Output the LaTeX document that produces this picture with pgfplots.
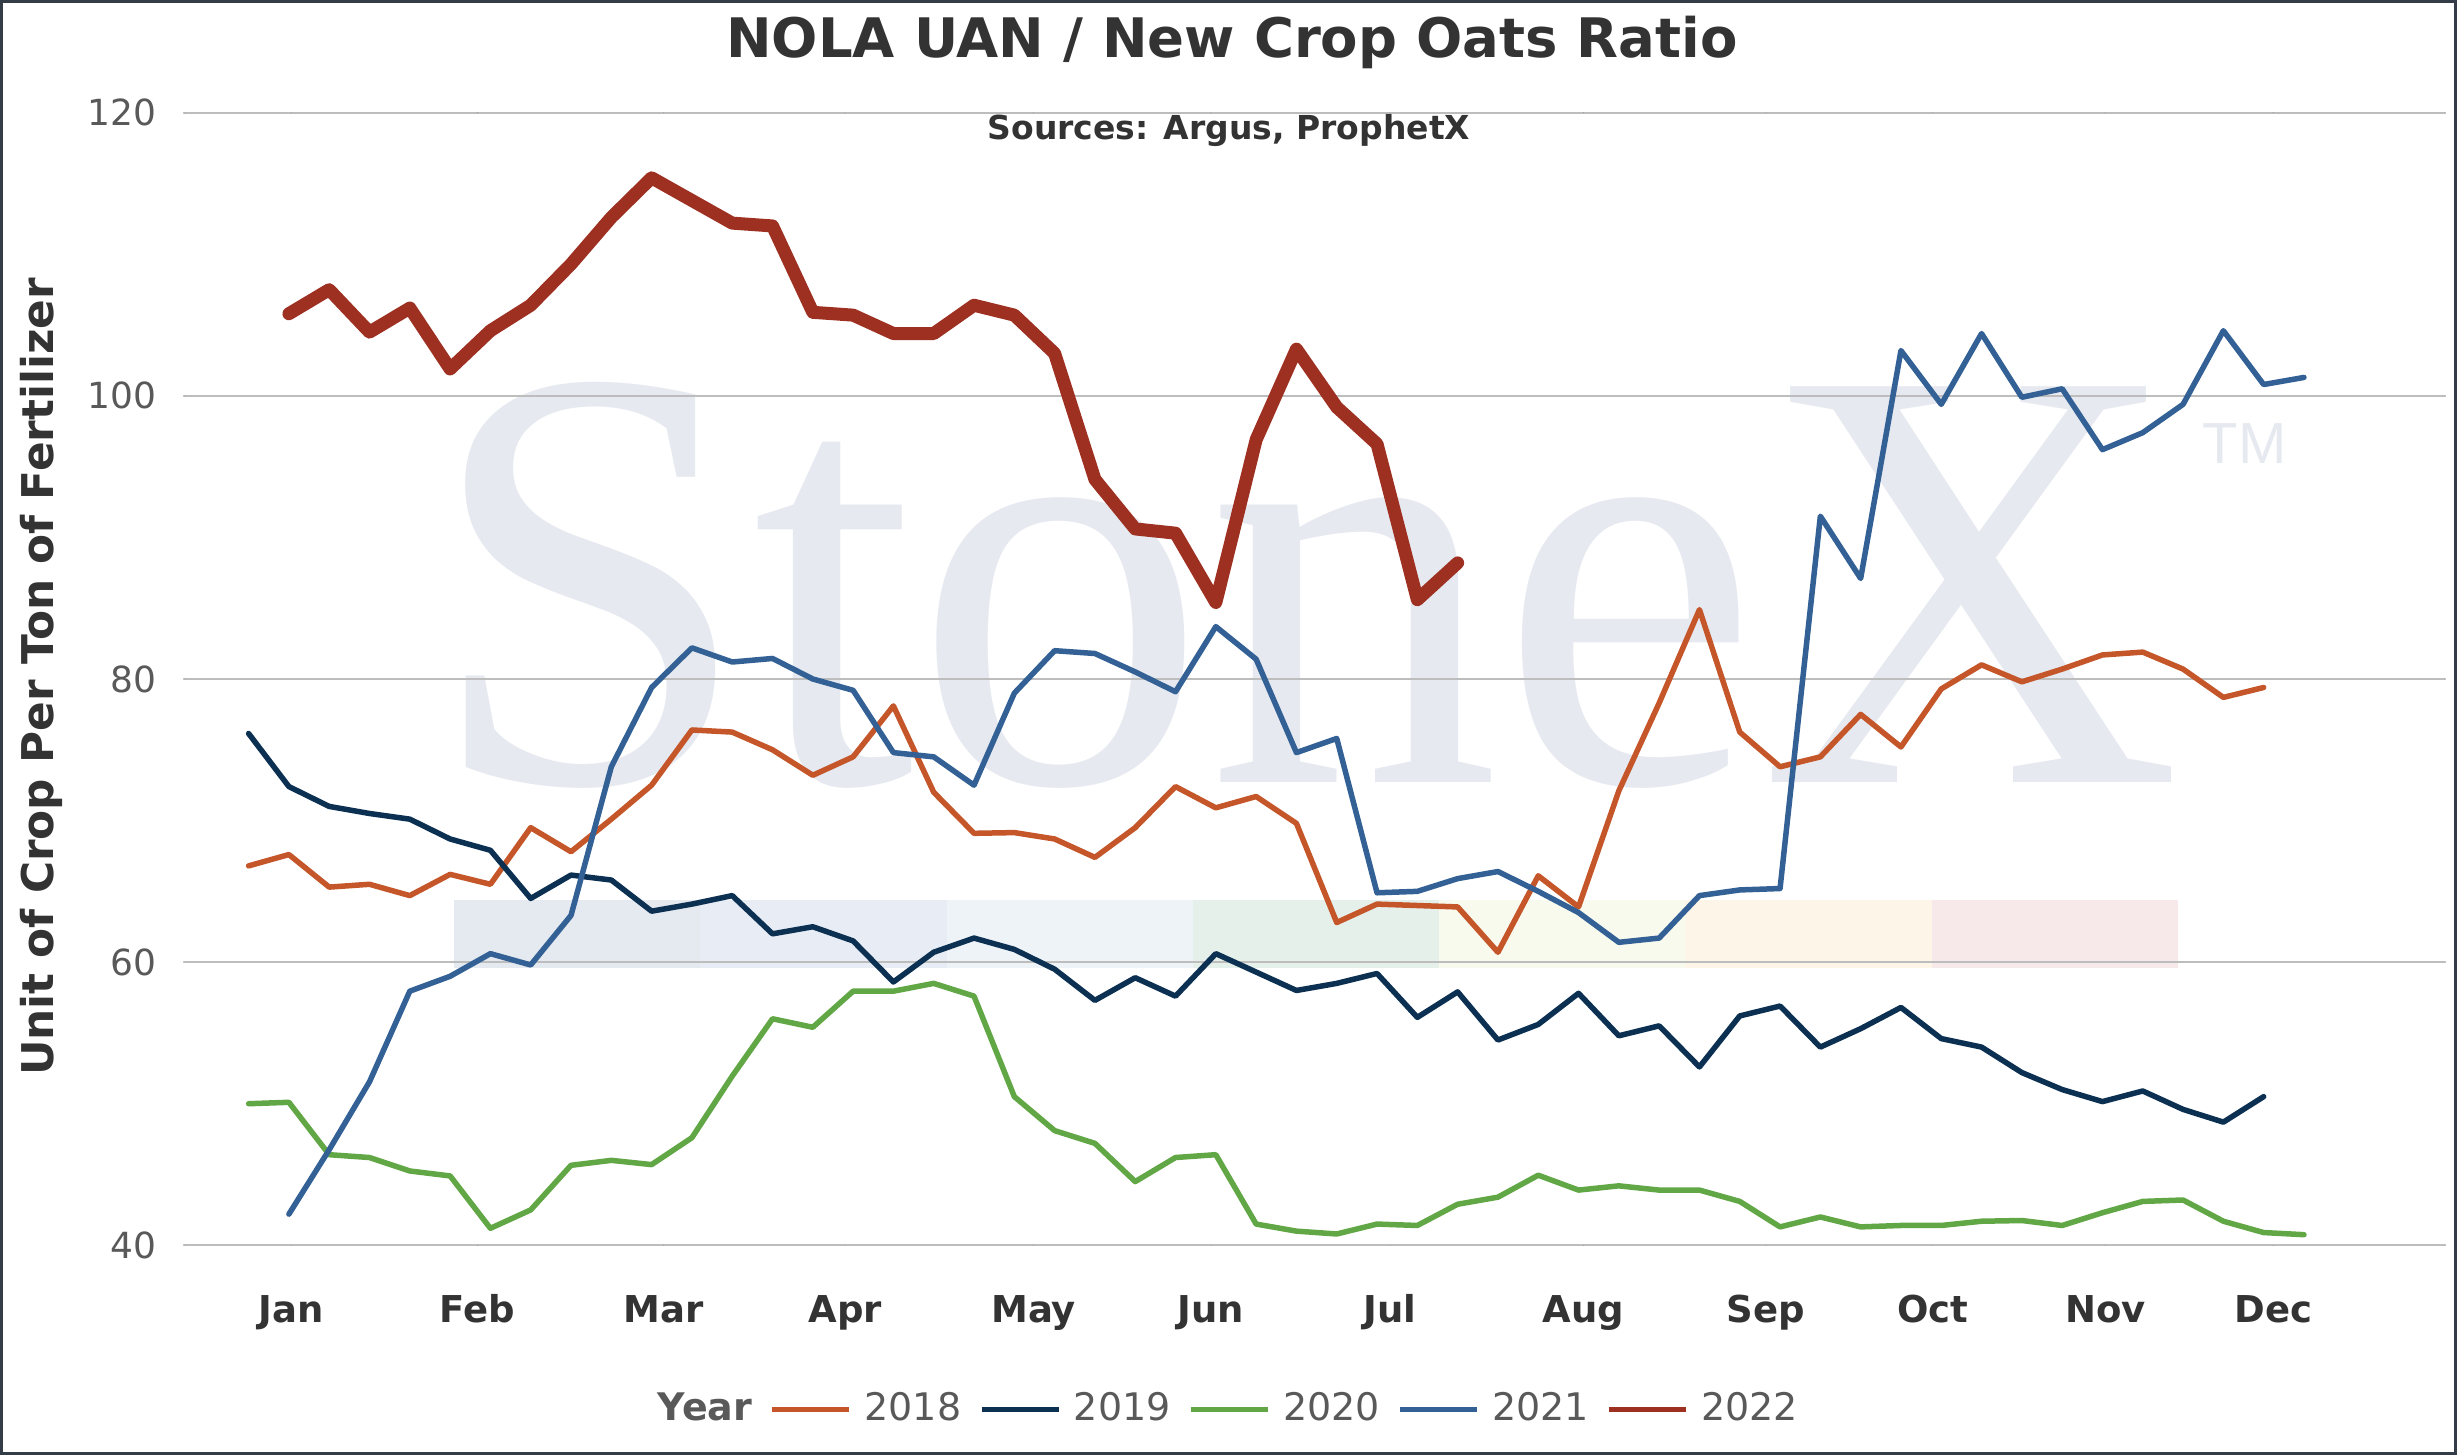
\documentclass[border=0pt]{standalone}
\usepackage{fontspec}
\setmainfont{DejaVu Sans}
\newfontfamily\wmfont{Liberation Serif}
\newfontfamily\tmfont{Liberation Sans}
\usepackage{graphicx}
\usepackage{pgfplots}
\pgfplotsset{compat=1.18}
\definecolor{c2018}{HTML}{C4562A}
\definecolor{c2019}{HTML}{0C3052}
\definecolor{c2020}{HTML}{62A745}
\definecolor{c2021}{HTML}{336195}
\definecolor{c2022}{HTML}{9E3022}
\definecolor{txtdark}{HTML}{333333}
\definecolor{txtgrey}{HTML}{595959}
\definecolor{gridc}{HTML}{BDBDBD}
\definecolor{wm}{HTML}{E6E9EF}
\definecolor{bandA}{HTML}{E5E9F0}
\definecolor{bandB}{HTML}{E8EDF5}
\definecolor{bandC}{HTML}{EEF3F8}
\definecolor{bandD}{HTML}{E6F0EA}
\definecolor{bandE}{HTML}{F9FAEE}
\definecolor{bandF}{HTML}{FDF5E8}
\definecolor{bandG}{HTML}{F7E8E9}
\definecolor{framec}{HTML}{333C47}

\pgfplotstableread{
i v
0 66.8
1 67.6
2 65.3
3 65.5
4 64.7
5 66.2
6 65.5
7 69.5
8 67.8
9 70.1
10 72.5
11 76.4
12 76.25
13 75.0
14 73.2
15 74.5
16 78.1
17 72.0
18 69.1
19 69.15
20 68.7
21 67.4
22 69.5
23 72.4
24 70.9
25 71.7
26 69.8
27 62.8
28 64.1
29 64.0
30 63.9
31 60.7
32 66.1
33 63.9
34 72.1
35 78.3
36 84.9
37 76.25
38 73.8
39 74.5
40 77.5
41 75.2
42 79.3
43 81.0
44 79.8
45 80.7
46 81.7
47 81.9
48 80.7
49 78.7
50 79.4
}\dataA

\pgfplotstableread{
i v
0 76.15
1 72.4
2 71.0
3 70.5
4 70.1
5 68.7
6 67.9
7 64.5
8 66.15
9 65.8
10 63.6
11 64.1
12 64.7
13 62.0
14 62.5
15 61.5
16 58.6
17 60.7
18 61.7
19 60.9
20 59.5
21 57.3
22 58.9
23 57.6
24 60.6
25 59.3
26 58.0
27 58.5
28 59.2
29 56.1
30 57.9
31 54.5
32 55.6
33 57.8
34 54.8
35 55.5
36 52.6
37 56.2
38 56.9
39 54.0
40 55.3
41 56.8
42 54.6
43 54.0
44 52.2
45 51.0
46 50.15
47 50.9
48 49.6
49 48.7
50 50.5
}\dataB

\pgfplotstableread{
i v
0 50.0
1 50.1
2 46.4
3 46.2
4 45.25
5 44.9
6 41.2
7 42.5
8 45.65
9 46.0
10 45.7
11 47.6
12 51.95
13 56.0
14 55.4
15 57.95
16 57.95
17 58.5
18 57.6
19 50.5
20 48.1
21 47.2
22 44.5
23 46.2
24 46.4
25 41.5
26 41.0
27 40.8
28 41.5
29 41.4
30 42.9
31 43.4
32 44.95
33 43.9
34 44.2
35 43.9
36 43.9
37 43.1
38 41.3
39 42.0
40 41.3
41 41.4
42 41.4
43 41.7
44 41.75
45 41.4
46 42.3
47 43.1
48 43.2
49 41.7
50 40.9
51 40.75
}\dataC

\pgfplotstableread{
i v
1 42.2
2 46.75
3 51.55
4 57.95
5 59.0
6 60.6
7 59.8
8 63.3
9 73.8
10 79.4
11 82.2
12 81.2
13 81.45
14 80.0
15 79.2
16 74.8
17 74.5
18 72.5
19 79.0
20 82.0
21 81.8
22 80.5
23 79.1
24 83.7
25 81.4
26 74.8
27 75.8
28 64.9
29 65.0
30 65.9
31 66.4
32 65.0
33 63.5
34 61.4
35 61.7
36 64.7
37 65.1
38 65.2
39 91.5
40 87.1
41 103.2
42 99.4
43 104.4
44 99.9
45 100.5
46 96.2
47 97.4
48 99.4
49 104.6
50 100.8
51 101.3
}\dataD

\pgfplotstableread{
i v
1 105.8
2 107.5
3 104.5
4 106.2
5 101.9
6 104.6
7 106.4
8 109.3
9 112.6
10 115.4
11 113.8
12 112.2
13 112.0
14 105.9
15 105.7
16 104.4
17 104.4
18 106.4
19 105.7
20 103.0
21 94.1
22 90.6
23 90.3
24 85.4
25 96.9
26 103.3
27 99.2
28 96.6
29 85.6
30 88.2
}\dataE

\begin{document}
\begin{tikzpicture}
\useasboundingbox (0,0) rectangle (245.7mm,145.5mm);
% watermark
\node[anchor=base west, inner sep=0pt, text=wm, font=\wmfont\fontsize{172pt}{172pt}\selectfont] at (42.6mm,67.2mm) {\scalebox{0.968}[1]{StoneX}};
\node[anchor=base west, inner sep=0pt, text=wm, font=\tmfont\fontsize{16.5pt}{16.5pt}\selectfont] at (220.2mm,99.1mm) {TM};

\begin{axis}[
  at={(18.4mm,20.97mm)}, anchor=south west,
  scale only axis, width=226.1mm, height=113.26mm,
  xmin=-1.603, xmax=54.5, ymin=40, ymax=120,
  axis line style={draw=none},
  major tick length=0pt,
  ymajorgrids, grid style={gridc, line width=0.22mm},
  ytick={40,60,80,100,120},
  yticklabels={40,60,80,100,120},
  yticklabel style={anchor=east, xshift=-2.7mm, inner sep=0pt, text=txtgrey, font=\fontsize{10.24pt}{12pt}\selectfont},
  xtick={1.06,5.68,10.30,14.80,19.48,23.88,28.32,33.12,37.65,41.79,46.07,50.24},
  xticklabels={Jan,Feb,Mar,Apr,May,Jun,Jul,Aug,Sep,Oct,Nov,Dec},
  xticklabel style={anchor=base, yshift=-7.67mm, inner sep=0pt, text=txtdark, font=\bfseries\fontsize{10.53pt}{12pt}\selectfont},
  legend columns=-1,
  legend image code/.code={\draw[#1, line width=0.55mm] (0mm,0mm) -- (7.7mm,0mm);},
  legend style={at={(0.4590,-0.1450)}, anchor=center, draw=none, fill=none, inner sep=0pt,
    nodes={inner sep=0pt, text=txtgrey, font=\fontsize{10.81pt}{13pt}\selectfont},
    /tikz/every odd column/.append style={column sep=1.25mm},
    /tikz/every even column/.append style={column sep=1.75mm}},
  line join=round, line cap=round,
]
\addlegendimage{empty legend}
\addlegendentry{\textbf{Year}}
% coloured bands
\addplot[draw=none, fill=bandA, forget plot] coordinates {(5.1,59.6) (11.21,59.6) (11.21,64.4) (5.1,64.4)};
\addplot[draw=none, fill=bandB, forget plot] coordinates {(11.21,59.6) (17.32,59.6) (17.32,64.4) (11.21,64.4)};
\addplot[draw=none, fill=bandC, forget plot] coordinates {(17.32,59.6) (23.43,59.6) (23.43,64.4) (17.32,64.4)};
\addplot[draw=none, fill=bandD, forget plot] coordinates {(23.43,59.6) (29.54,59.6) (29.54,64.4) (23.43,64.4)};
\addplot[draw=none, fill=bandE, forget plot] coordinates {(29.54,59.6) (35.65,59.6) (35.65,64.4) (29.54,64.4)};
\addplot[draw=none, fill=bandF, forget plot] coordinates {(35.65,59.6) (41.76,59.6) (41.76,64.4) (35.65,64.4)};
\addplot[draw=none, fill=bandG, forget plot] coordinates {(41.76,59.6) (47.88,59.6) (47.88,64.4) (41.76,64.4)};
\addplot[gridc, line width=0.22mm, forget plot] coordinates {(-1.603,60) (54.5,60)};
% series
\addplot[c2018, line width=0.55mm] table[x=i,y=v] {\dataA};
\addlegendentry{2018}
\addplot[c2019, line width=0.55mm] table[x=i,y=v] {\dataB};
\addlegendentry{2019}
\addplot[c2020, line width=0.55mm] table[x=i,y=v] {\dataC};
\addlegendentry{2020}
\addplot[c2021, line width=0.55mm] table[x=i,y=v] {\dataD};
\addlegendentry{2021}
\addplot[c2022, line width=1.3mm] table[x=i,y=v] {\dataE};
\addlegendentry{2022}
\end{axis}

% titles
\node[anchor=base, inner sep=0pt, text=txtdark, font=\bfseries\fontsize{15.5pt}{18pt}\selectfont] at (123.2mm,139.75mm) {NOLA UAN / New Crop Oats Ratio};
\node[anchor=base, inner sep=0pt, text=txtdark, font=\bfseries\fontsize{9.39pt}{11pt}\selectfont] at (122.9mm,131.57mm) {Sources: Argus, ProphetX};
\node[anchor=base, rotate=90, inner sep=0pt, text=txtdark, font=\bfseries\fontsize{12.45pt}{15pt}\selectfont] at (5.33mm,77.8mm) {Unit of Crop Per Ton of Fertilizer};
% frame
\draw[framec, line width=0.3mm] (0.15mm,0.15mm) rectangle (245.55mm,145.35mm);
\end{tikzpicture}
\end{document}
